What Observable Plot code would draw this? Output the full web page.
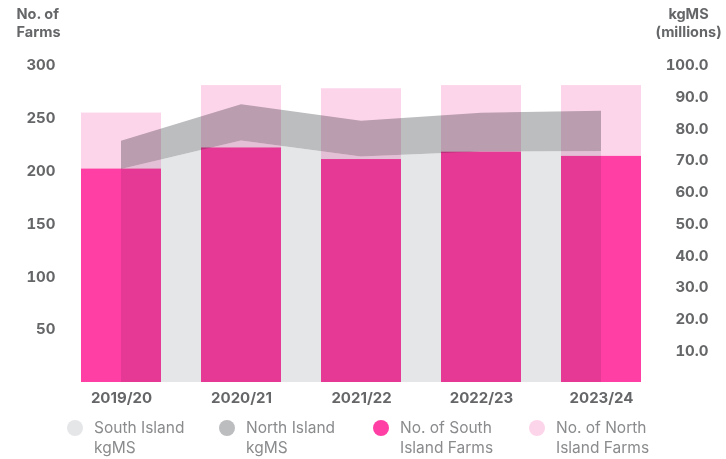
<!DOCTYPE html>
<html><head><meta charset="utf-8">
<script src="https://cdn.jsdelivr.net/npm/d3@7"></script>
<script src="https://cdn.jsdelivr.net/npm/@observablehq/plot@0.6"></script>
<style>
body{margin:0;background:#fff;font-family:Inter,Roboto,sans-serif;}
#chart{position:relative;width:726px;height:459px;overflow:hidden;}
#legend{position:absolute;top:418px;left:0;width:726px;height:41px;}
.item{position:absolute;top:0;display:flex;align-items:flex-start;}
.sw{width:16px;height:16px;border-radius:50%;margin-top:2px;margin-right:11px;flex:none;}
.lab{font-size:15.5px;line-height:20px;color:#8a8b8d;}
</style></head>
<body><div id="chart"></div>
<script>
const years = ["2019/20", "2020/21", "2021/22", "2022/23", "2023/24"];
const southFarms = [202, 222, 211, 218, 214];
const northFarms = [53, 59, 67, 63, 67];
const southKgMS = [67.2, 76.2, 71.1, 72.7, 72.9];
const northKgMS = [8.9, 11.4, 11.3, 12.2, 12.7];
const farmTicks = [50, 100, 150, 200, 250, 300];
const kgTicks = [10, 20, 30, 40, 50, 60, 70, 80, 90, 100];
const legendNames = ["South Island\nkgMS", "North Island\nkgMS", "No. of South\nIsland Farms", "No. of North\nIsland Farms"];
const legendColors = ["#e5e6e8", "#bcbdbf", "#ff3fa4", "#fdd5ea"];
const legendLefts = [67, 219, 373, 529];

const k = 3; // kgMS axis (0-100) mapped onto farms axis (0-300)
const data = years.map((year, i) => ({year, sf: southFarms[i], nf: northFarms[i], sk: southKgMS[i], nk: northKgMS[i]}));

const chart = Plot.plot({
  width: 726,
  height: 412,
  marginLeft: 80,
  marginRight: 83,
  marginTop: 65,
  marginBottom: 30,
  style: {fontFamily: "Inter, Roboto, sans-serif", fontSize: "15px", fontWeight: 700, color: "#656668", background: "transparent"},
  x: {type: "band", domain: years, paddingInner: 0.33, paddingOuter: 0, label: null},
  y: {domain: [0, 300], label: null},
  marks: [
    Plot.areaY(data, {x: "year", y1: 0, y2: d => d.sk * k, fill: legendColors[0]}),
    Plot.areaY(data, {x: "year", y1: d => d.sk * k, y2: d => (d.sk + d.nk) * k, fill: legendColors[1]}),
    Plot.barY(data, {x: "year", y1: 0, y2: "sf", fill: legendColors[2], mixBlendMode: "multiply"}),
    Plot.barY(data, {x: "year", y1: "sf", y2: d => d.sf + d.nf, fill: legendColors[3], mixBlendMode: "multiply"}),
    Plot.axisX({tickSize: 0, tickPadding: 10, label: null}),
    Plot.axisY({anchor: "left", ticks: farmTicks, tickSize: 0, tickPadding: 25, label: null}),
    Plot.axisY({anchor: "right", ticks: kgTicks.map(v => v * k), tickFormat: d => (d / k).toFixed(1), tickSize: 0, tickPadding: 65, textAnchor: "end", label: null}),
    Plot.text(["No. of\nFarms"], {frameAnchor: "top-left", text: d => d, dx: -64, dy: -59, fontSize: 14.5, textAnchor: "start", lineAnchor: "top", lineHeight: 1.22}),
    Plot.text(["kgMS\n(millions)"], {frameAnchor: "top-right", text: d => d, dx: 45, dy: -59, fontSize: 14.5, textAnchor: "middle", lineAnchor: "top", lineHeight: 1.22})
  ]
});
const root = document.getElementById("chart");
root.appendChild(chart);
const legend = document.createElement("div");
legend.id = "legend";
legendNames.forEach((name, i) => {
  const it = document.createElement("div");
  it.className = "item";
  it.style.left = legendLefts[i] + "px";
  const sw = document.createElement("div");
  sw.className = "sw";
  sw.style.background = legendColors[i];
  const lab = document.createElement("div");
  lab.className = "lab";
  lab.innerHTML = name.split("\n").join("<br>");
  it.appendChild(sw); it.appendChild(lab);
  legend.appendChild(it);
});
root.appendChild(legend);
</script>
</body></html>
